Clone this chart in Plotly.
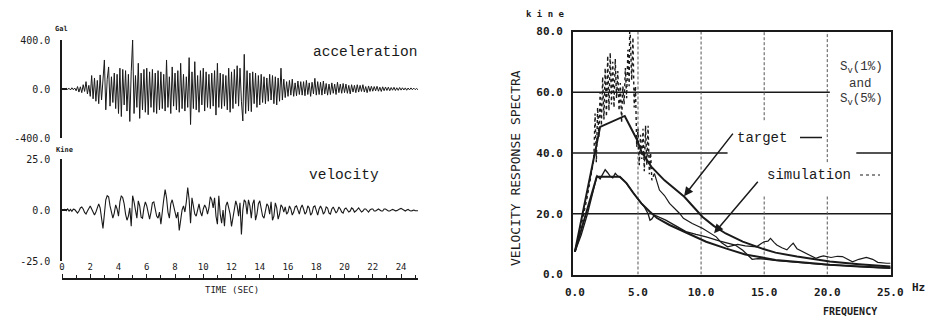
import numpy as np
import plotly.graph_objects as go

W, H = 935, 320
def px(x):
    return x / W
def py(y):
    return 1 - y / H

INK = "#1a1a1a"
MONO = "DejaVu Sans Mono"
TYPE = "Liberation Mono"

# ---------------- time histories (sampled every 0.1 s) ----------------
DT = 0.1
acc_gal = [
    0, 3, -4, 5, -3, 6, -8, 10, -6, 8,
    -15, 20, -25, 18, -30, 35, -20, 60, -40, 30,
    -60, 110, -80, 90, -100, 70, -120, 115, -90, 60,
    237, -170, 80, 180, -140, 100, -110, 130, -160, 120,
    -200, 170, -225, 160, -130, 150, -180, 120, -265, 140,
    400, -200, 110, -150, 210, -240, 130, -170, 160, -190,
    170, -210, 140, -150, 160, -190, 130, -200, 150, -170,
    140, -160, 120, -180, 237, -150, 100, -200, 180, -140,
    130, -170, 150, -190, 210, -160, 120, -180, 100, -150,
    256, -290, 140, -160, 223, -170, 110, -190, 150, -130,
    170, -180, 140, -150, 120, -160, 130, -140, 150, -213,
    210, -150, 130, -160, 120, -140, 110, -170, 170, -190,
    140, -160, 160, -120, 190, -140, 170, -100, -261, 283,
    -200, 150, -180, 130, -185, 140, -120, 130, -150, 110,
    -130, 120, -110, 100, -120, 90, -100, 120, -90, 110,
    -120, 100, -130, 90, -100, 170, -90, 80, -70, 60,
    -60, 70, -50, 80, -60, 50, -55, 65, -45, 60,
    -50, 60, -55, 70, -45, 50, -60, 55, -40, 87,
    -50, 60, -45, 55, -50, 65, -40, 45, -50, 40,
    -45, 50, -35, 40, -45, 55, -30, 40, -35, 45,
    -30, 40, -35, 30, -40, 35, -25, 30, -30, 35,
    -25, 30, -20, 35, -25, 20, -30, 25, -20, 22,
    -18, 20, -15, 22, -18, 15, -20, 18, -14, 16,
    -12, 15, -14, 12, -10, 14, -12, 10, -11, 12,
    -9, 10, -8, 9, -10, 8, -7, 9, -6, 7,
    -5, 4, -6,
]
vel_kine = [
    0, 0, 0.3, -0.3, 0.5, -0.5, 0.3, -0.6, 0.4, 0.2,
    -0.8, -1.5, -0.5, 1.0, 1.5, 0.5, -1.2, -2.0, -0.5, 1.2,
    2.0, 0.5, -1.5, -2.5, -1.0, 1.5, 3.0, 1.0, -3.0, -9.0,
    -2.0, 5.0, 7.0, 6.5, 2.0, -2.0, -4.0, -1.5, 2.5, 0.5,
    -3.0, 4.0, 7.0, 6.0, 3.0, -2.0, -5.0, -3.0, 1.0, -8.0,
    7.0, 4.0, -1.0, -4.0, 4.5, 2.0, -3.5, -4.0, 1.0, 4.0,
    2.0, -2.0, -4.5, -1.0, 3.5, 4.0, 0.5, -3.0, -4.0, -1.0,
    -7.0, 1.0, 5.0, 10.0, 6.0, -1.0, -4.0, 3.0, 5.0, 2.0,
    -2.0, -4.0, -1.0, -10.0, -5.0, 0.0, 2.0, -1.0, 4.0, 11.0,
    5.0, -6.5, 6.0, 2.0, -2.0, -3.0, 1.0, 3.0, -1.0, -3.0,
    0.5, 2.5, 1.0, -2.0, 1.0, 6.5, 5.0, 1.0, 6.0, -3.0,
    -7.0, 7.0, -2.0, -6.5, 0.0, -8.0, 2.0, 4.0, 1.0, -2.0,
    -8.0, -3.0, 1.5, 4.5, 2.0, -3.0, 3.5, -12.0, 0.0, 5.0,
    4.0, -2.0, 5.0, 2.0, -4.0, 3.0, 5.0, -5.0, -2.0, 3.0,
    4.5, 1.0, -3.0, -4.0, 0.0, 3.0, 2.0, -2.0, 4.0, -5.0,
    -3.0, 3.5, 1.0, -4.5, -2.0, 2.5, 1.5, -1.0, 1.5, -2.0,
    -1.0, 2.0, 0.5, -2.5, -1.0, 1.5, 2.0, 0.0, -2.0, 1.0,
    2.5, 0.5, -2.0, -1.0, 2.0, 1.0, -2.5, -1.5, 1.5, 2.0,
    -1.0, -2.5, 0.5, 2.0, 0.5, -2.0, -1.0, 1.5, 1.0, -1.5,
    -2.0, 0.5, 1.5, 0.0, -1.5, -0.5, 1.5, 0.5, -1.0, -1.5,
    0.5, 1.0, 0.0, -1.0, -0.5, 1.0, 0.5, -1.0, -0.5, 0.5,
    1.0, 0.0, -1.0, -0.5, 0.5, 0.5, -0.5, -1.0, 0.0, 0.5,
    0.5, -0.5, -0.5, 0.0, 0.5, 0.0, -0.5, -0.5, 0.5, 0.5,
    0.0, -0.5, -0.5, 0.0, 0.3, 0.0, -0.4, -0.3, 0.3, 0.5,
    0.8, 0.3, -0.3, -0.5, 0.0, 0.3, -0.2, -0.5, -0.3, 0.0,
    -0.3, -0.5, -0.4,
]
time_s = np.round(np.arange(len(acc_gal)) * DT, 2)

time_ticks = list(range(0, 25, 2))
acc_ticks = [-400, 0, 400]
acc_tick_text = ["-400.0", "0.0", "400.0"]
vel_ticks = [-25, 0, 25]
vel_tick_text = ["-25.0", "0.0", "25.0"]

# ---------------- velocity response spectra ----------------
target1_f = [0, 2.0, 3.95, 4.87, 5.3, 6.05, 7.1, 8.67, 10.1, 11.0, 11.95, 13.3, 15.0, 15.9, 17.6, 20.2, 22.5, 25.0]
target1_v = [7.5, 48.6, 52.2, 44.8, 40.2, 35.5, 31.0, 25.6, 19.0, 16.0, 13.5, 10.8, 8.3, 7.2, 5.9, 4.3, 3.4, 2.6]

sim1_low_f = [0, 0.5, 1.0, 1.5, 1.6, 1.7, 1.8, 1.9, 2.0, 2.1, 2.2, 2.3, 2.4, 2.5, 2.6, 2.7, 2.8, 2.9,
              3.0, 3.1, 3.2, 3.3, 3.4, 3.5, 3.6, 3.7, 3.8, 3.9, 4.0, 4.1, 4.2, 4.3, 4.35, 4.5,
              4.6, 4.7, 4.8, 4.9, 5.0, 5.1, 5.2, 5.3, 5.4, 5.5, 5.6, 5.7, 5.8, 5.9, 6.0, 6.1, 6.3]
sim1_low_v = [7.5, 16, 26, 38, 53, 37, 55, 45, 60, 49, 65, 51, 68, 52, 72, 54, 73, 56,
              70, 55, 71, 58, 67, 54, 63, 50, 62, 56, 68, 58, 74, 62, 84, 64,
              78, 55, 62, 42, 48, 36, 46, 38, 48, 34, 49, 36, 49, 33, 40, 31, 33.3]
sim1_high_f = [6.3, 6.7, 7.1, 7.5, 8.3, 8.6, 9.3, 10.1, 11.2, 11.6, 12.1, 12.5, 12.9, 13.5, 14.0, 14.4,
               14.8, 15.0, 15.3, 15.5, 15.8, 16.0, 16.4, 16.8, 17.1, 17.3, 17.6, 18.1, 18.6, 19.1,
               19.4, 19.7, 20.3, 20.8, 21.2, 21.6, 22.0, 22.5, 23.1, 23.6, 24.0, 24.7, 25.0]
sim1_high_v = [33.3, 27.8, 26.0, 23.4, 20.1, 18.5, 16.8, 15.2, 12.4, 10.5, 9.1, 9.5, 9.9, 9.4, 9.2, 9.1,
               10.3, 10.8, 11.0, 11.9, 10.5, 9.7, 8.8, 8.1, 9.5, 10.3, 8.5, 7.5, 6.5, 5.3,
               5.8, 6.1, 5.6, 6.0, 5.9, 5.0, 4.2, 5.0, 5.6, 5.0, 4.0, 3.7, 3.7]

target5_f = [0, 1.73, 3.56, 4.1, 4.6, 5.27, 5.9, 6.5, 7.5, 8.4, 9.3, 10.4, 11.95, 13.5, 15.9, 18.0, 20.2, 22.5, 25.0]
target5_v = [7.5, 32.2, 32.2, 30.0, 27.0, 23.4, 20.8, 18.6, 16.3, 14.6, 13.0, 10.8, 8.6, 6.6, 4.8, 4.0, 3.2, 2.6, 2.1]

sim5_f = [0, 0.5, 1.0, 1.5, 1.75, 2.0, 2.2, 2.4, 2.6, 2.8, 3.0, 3.2, 3.4, 3.6, 4.0, 4.5, 5.0, 5.5, 5.8,
          5.95, 6.1, 6.3, 6.7, 7.2, 8.0, 8.8, 9.6, 10.4, 11.5, 12.7, 13.3, 13.7, 14.05, 14.5, 15.0,
          16.0, 17.0, 18.0, 19.0, 20.0, 21.0, 22.0, 23.0, 24.0, 25.0]
sim5_v = [7.5, 13, 20, 28, 32.5, 31.5, 33.0, 34.5, 33.5, 32.3, 31.8, 33.3, 32.4, 32.0, 30.5, 27.5, 24.8, 22.3, 20.0,
          17.9, 18.3, 19.6, 18.8, 17.9, 16.0, 14.1, 13.2, 12.4, 11.0, 9.7, 8.0, 6.3, 5.0, 5.2, 5.1,
          4.6, 4.2, 3.8, 3.5, 3.2, 3.0, 2.7, 2.5, 2.3, 2.1]

freq_ticks = [0, 5, 10, 15, 20, 25]
freq_tick_text = ["0.0", "5.0", "10.0", "15.0", "20.0", "25.0"]
sv_ticks = [0, 20, 40, 60, 80]
sv_tick_text = ["0.0", "20.0", "40.0", "60.0", "80.0"]

fig = go.Figure()
fig.add_trace(go.Scatter(x=time_s, y=acc_gal, mode="lines", line=dict(color=INK, width=1),
                         xaxis="x", yaxis="y", hoverinfo="skip"))
fig.add_trace(go.Scatter(x=time_s, y=vel_kine, mode="lines", line=dict(color=INK, width=1.1),
                         xaxis="x2", yaxis="y2", hoverinfo="skip"))
fig.add_trace(go.Scatter(x=sim1_low_f, y=sim1_low_v, mode="lines", line=dict(color=INK, width=1.4, dash="dot"),
                         xaxis="x3", yaxis="y3"))
fig.add_trace(go.Scatter(x=sim1_high_f, y=sim1_high_v, mode="lines", line=dict(color=INK, width=1.2),
                         xaxis="x3", yaxis="y3"))
fig.add_trace(go.Scatter(x=sim5_f, y=sim5_v, mode="lines", line=dict(color=INK, width=1.3),
                         xaxis="x3", yaxis="y3"))
fig.add_trace(go.Scatter(x=target1_f, y=target1_v, mode="lines", line=dict(color=INK, width=2),
                         xaxis="x3", yaxis="y3"))
fig.add_trace(go.Scatter(x=target5_f, y=target5_v, mode="lines", line=dict(color=INK, width=2),
                         xaxis="x3", yaxis="y3"))

tickfont_left = dict(family=MONO, size=10, color=INK)
tickfont_right = dict(family=MONO, size=11, color=INK, weight="bold")

fig.update_layout(
    width=W, height=H, autosize=False,
    margin=dict(l=0, r=0, t=0, b=0, pad=0, autoexpand=False),
    paper_bgcolor="white", plot_bgcolor="white",
    showlegend=False,
    xaxis=dict(domain=[px(62), px(418)], range=[0, 25.2], visible=False, anchor="y", automargin=False),
    yaxis=dict(domain=[py(138), py(40)], range=[-400, 400], anchor="x", automargin=False,
               tickvals=acc_ticks, ticktext=acc_tick_text, tickfont=tickfont_left,
               showline=True, linecolor=INK, linewidth=1.5, ticks="inside", ticklen=5,
               tickwidth=1.5, tickcolor=INK, showgrid=False, zeroline=False, ticklabelstandoff=8),
    xaxis2=dict(domain=[px(62), px(418)], range=[0, 25.2], anchor="free", position=py(279),
                side="top", automargin=False,
                tickvals=time_ticks, tickfont=dict(family=MONO, size=9, color=INK),
                showline=True, linecolor=INK, linewidth=2, ticks="outside", ticklen=4,
                tickwidth=1.2, tickcolor=INK, ticklabelstandoff=0,
                minor=dict(dtick=1, ticks="outside", ticklen=3, tickcolor=INK, tickwidth=1),
                showgrid=False, zeroline=False),
    yaxis2=dict(domain=[py(261), py(159)], range=[-25, 25], anchor="x2", automargin=False,
                tickvals=vel_ticks, ticktext=vel_tick_text, tickfont=tickfont_left,
                showline=True, linecolor=INK, linewidth=1.5, ticks="inside", ticklen=5,
                tickwidth=1.5, tickcolor=INK, showgrid=False, zeroline=False, ticklabelstandoff=8),
    xaxis3=dict(domain=[px(573), px(891)], range=[-0.15, 25.05], anchor="y3", automargin=False,
                tickvals=freq_ticks, ticktext=freq_tick_text, tickfont=tickfont_right,
                showline=True, mirror=True, linecolor=INK, linewidth=2, ticks="",
                showgrid=False, zeroline=False, ticklabelstandoff=6),
    yaxis3=dict(domain=[py(274.5), py(31.5)], range=[0, 80], anchor="x3", automargin=False,
                tickvals=sv_ticks, ticktext=sv_tick_text, tickfont=tickfont_right,
                showline=True, mirror=True, linecolor=INK, linewidth=2, ticks="",
                showgrid=False, zeroline=False, ticklabelstandoff=6),
)

# grid lines of the spectrum panel
hgrid = [(20, -0.15, 25.05), (40, -0.15, 12.1), (40, 22.3, 25.05), (60, -0.15, 20.2)]
for yv, x0, x1 in hgrid:
    fig.add_shape(type="line", xref="x3", yref="y3", x0=x0, x1=x1, y0=yv, y1=yv,
                  line=dict(color=INK, width=1.6), layer="below")
vgrid = [(5, 0, 80), (10, 0, 80), (15, 0, 26), (15, 50.8, 80), (20, 0, 26), (20, 37, 80)]
for xv, y0, y1 in vgrid:
    fig.add_shape(type="line", xref="x3", yref="y3", x0=xv, x1=xv, y0=y0, y1=y1,
                  line=dict(color="#555", width=1, dash="3px,2px"), layer="below")

# legend strokes
fig.add_shape(type="line", xref="paper", yref="paper", x0=px(800), x1=px(822), y0=py(137.5), y1=py(137.5),
              line=dict(color=INK, width=1.5))
fig.add_shape(type="line", xref="paper", yref="paper", x0=px(860), x1=px(880), y0=py(175), y1=py(175),
              line=dict(color=INK, width=1.2, dash="dot"))

def note(text, x, y, size, family=MONO, weight="normal", color=INK, angle=0, xanchor="center"):
    fig.add_annotation(text=text, xref="paper", yref="paper", x=px(x), y=py(y), showarrow=False,
                       xanchor=xanchor, yanchor="middle", textangle=angle,
                       font=dict(family=family, size=size, color=color, weight=weight))

note("acceleration", 365, 52, 14.5, family=TYPE)
note("velocity", 344, 175, 14.5, family=TYPE)
note("Gal", 61, 29, 7, weight="bold")
note("Kine", 64, 150, 7, weight="bold")
note("TIME (SEC)", 232, 289.5, 9)
note("k i n e", 545.5, 13.5, 9, weight="bold")
note("VELOCITY RESPONSE SPECTRA", 515, 168, 13, angle=-90)
note("Hz", 918.5, 287, 11, weight="bold")
note("FREQUENCY", 850, 311.5, 10, weight="bold")
note("S<sub>v</sub>(1%)", 861.5, 68, 12.5, family=TYPE, color="#333")
note("and", 860, 84, 12.5, family=TYPE, color="#333")
note("S<sub>v</sub>(5%)", 861.5, 100, 12.5, family=TYPE, color="#333")
note("target", 762, 137.5, 14, family=TYPE)
note("simulation", 808.5, 175, 14, family=TYPE)

# arrows
fig.add_annotation(text="", xref="x3", yref="y3", x=8.65, y=25.8, ax=50, ay=-64, axref="pixel", ayref="pixel",
                   showarrow=True, arrowhead=2, arrowsize=1.2, arrowwidth=1.5, arrowcolor=INK)
fig.add_annotation(text="", xref="x3", yref="y3", x=11.03, y=13.6, ax=45, ay=-53, axref="pixel", ayref="pixel",
                   showarrow=True, arrowhead=2, arrowsize=1.2, arrowwidth=1.5, arrowcolor=INK)

fig.write_html("out.html", post_script="document.body.style.margin='0px';document.body.style.overflow='hidden';")
